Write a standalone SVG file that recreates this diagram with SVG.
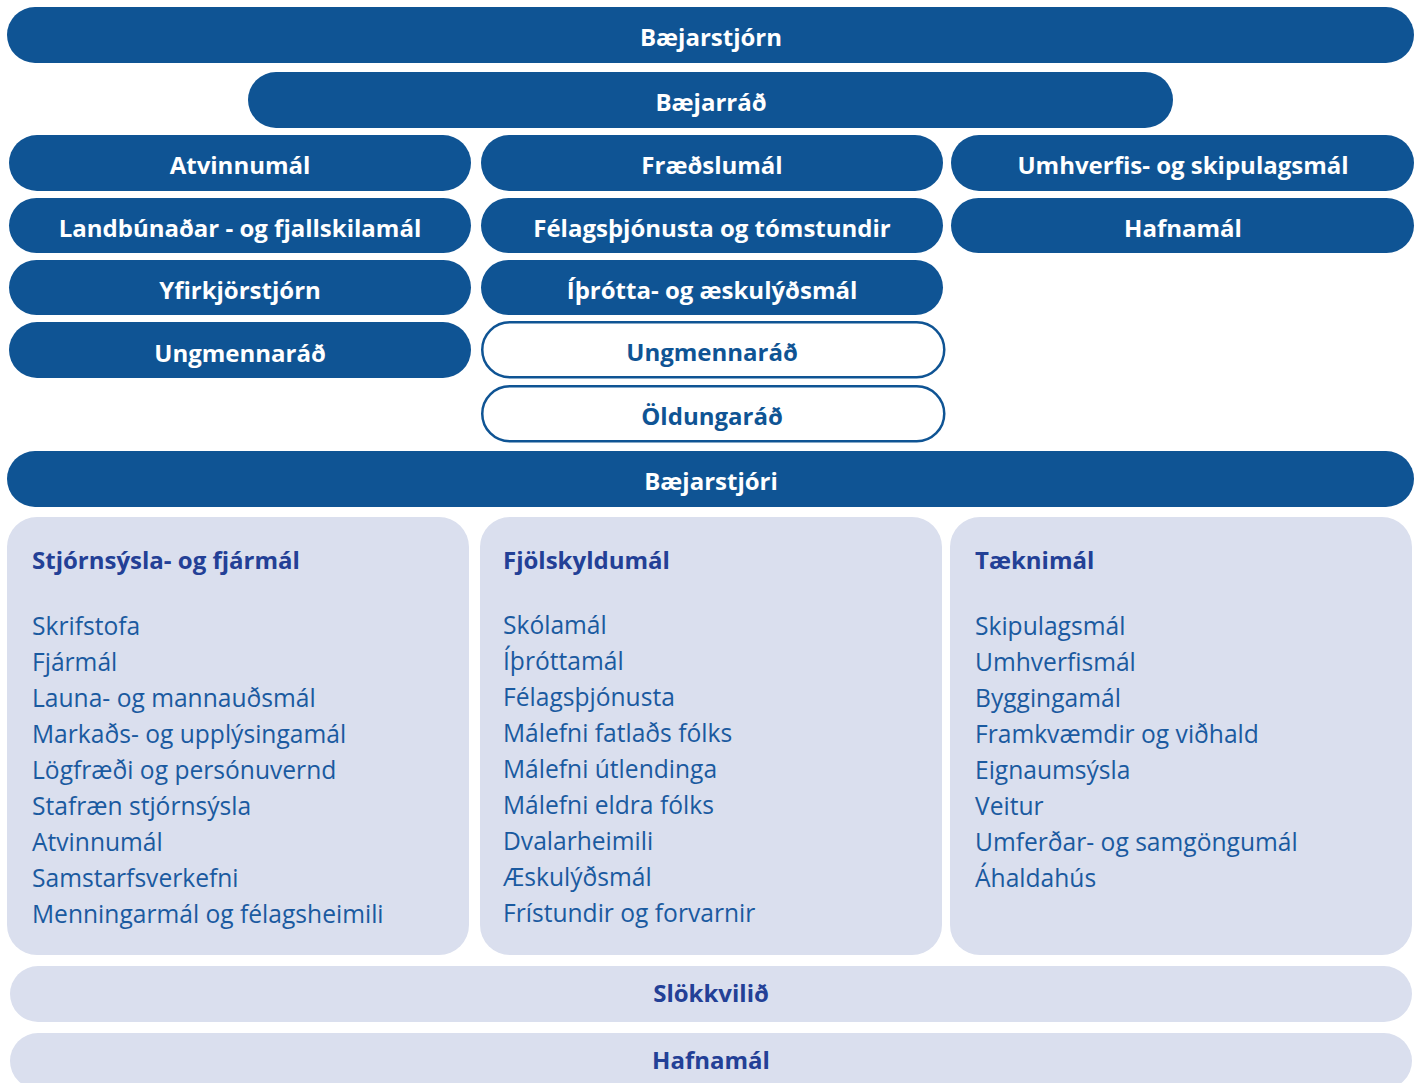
<svg xmlns="http://www.w3.org/2000/svg" width="1419" height="1083" viewBox="0 0 1419 1083">
<style>
.d{fill:#0F5494}
.o{fill:#fff;stroke:#0F5494;stroke-width:2.5}
.l{fill:#DADFEE}
.t{font-family:"Open Sans",sans-serif;font-weight:bold;font-size:24px;text-anchor:middle}
.w{fill:#fff}
.b{fill:#0F5494}
.h{font-family:"Open Sans",sans-serif;font-weight:bold;font-size:24px;fill:#234096}
.i{font-family:"Open Sans",sans-serif;font-weight:400;font-size:24.6px;fill:#1A5AA0}
.c{text-anchor:middle}
</style>
<g id="baejarstjorn"><rect class="d" x="7" y="7" width="1407" height="56" rx="28"/><text class="t w" x="711" y="46">Bæjarstjórn</text></g>
<g id="baejarrad"><rect class="d" x="248" y="72" width="925" height="56" rx="28"/><text class="t w" x="711" y="111">Bæjarráð</text></g>
<g id="atvinnumal"><rect class="d" x="9" y="135" width="462" height="56" rx="28"/><text class="t w" x="240" y="174">Atvinnumál</text></g>
<g id="fraedslumal"><rect class="d" x="481" y="135" width="462" height="56" rx="28"/><text class="t w" x="712" y="174">Fræðslumál</text></g>
<g id="umhverfis"><rect class="d" x="951" y="135" width="463" height="56" rx="28"/><text class="t w" x="1183" y="174">Umhverfis- og skipulagsmál</text></g>
<g id="landbunadar"><rect class="d" x="9" y="198" width="462" height="55" rx="27.5"/><text class="t w" x="240" y="237">Landbúnaðar - og fjallskilamál</text></g>
<g id="felagsthjonusta"><rect class="d" x="481" y="198" width="462" height="55" rx="27.5"/><text class="t w" x="712" y="237">Félagsþjónusta og tómstundir</text></g>
<g id="hafnamal-top"><rect class="d" x="951" y="198" width="463" height="55" rx="27.5"/><text class="t w" x="1183" y="237">Hafnamál</text></g>
<g id="yfirkjorstjorn"><rect class="d" x="9" y="260" width="462" height="55" rx="27.5"/><text class="t w" x="240" y="299">Yfirkjörstjórn</text></g>
<g id="ithrotta"><rect class="d" x="481" y="260" width="462" height="55" rx="27.5"/><text class="t w" x="712" y="299">Íþrótta- og æskulýðsmál</text></g>
<g id="ungmennarad-left"><rect class="d" x="9" y="322" width="462" height="56" rx="28"/><text class="t w" x="240" y="362">Ungmennaráð</text></g>
<g id="ungmennarad-mid"><rect class="o" x="482.25" y="322.25" width="462" height="55" rx="27.5"/><text class="t b" x="712" y="361">Ungmennaráð</text></g>
<g id="oldungarad"><rect class="o" x="482.25" y="386.25" width="462" height="55" rx="27.5"/><text class="t b" x="712" y="425">Öldungaráð</text></g>
<g id="baejarstjori"><rect class="d" x="7" y="451" width="1407" height="56" rx="28"/><text class="t w" x="711" y="490">Bæjarstjóri</text></g>
<g id="stjornsysla"><rect class="l" x="7" y="517" width="462" height="438" rx="30"/>
<text class="h" x="32" y="569">Stjórnsýsla- og fjármál</text>
<text class="i" x="32" y="635">Skrifstofa</text>
<text class="i" x="32" y="671">Fjármál</text>
<text class="i" x="32" y="707">Launa- og mannauðsmál</text>
<text class="i" x="32" y="743">Markaðs- og upplýsingamál</text>
<text class="i" x="32" y="779">Lögfræði og persónuvernd</text>
<text class="i" x="32" y="815">Stafræn stjórnsýsla</text>
<text class="i" x="32" y="851">Atvinnumál</text>
<text class="i" x="32" y="887">Samstarfsverkefni</text>
<text class="i" x="32" y="923">Menningarmál og félagsheimili</text>
</g>
<g id="fjolskyldumal"><rect class="l" x="480" y="517" width="462" height="438" rx="30"/>
<text class="h" x="503" y="569">Fjölskyldumál</text>
<text class="i" x="503" y="634">Skólamál</text>
<text class="i" x="503" y="670">Íþróttamál</text>
<text class="i" x="503" y="706">Félagsþjónusta</text>
<text class="i" x="503" y="742">Málefni fatlaðs fólks</text>
<text class="i" x="503" y="778">Málefni útlendinga</text>
<text class="i" x="503" y="814">Málefni eldra fólks</text>
<text class="i" x="503" y="850">Dvalarheimili</text>
<text class="i" x="503" y="886">Æskulýðsmál</text>
<text class="i" x="503" y="922">Frístundir og forvarnir</text>
</g>
<g id="taeknimal"><rect class="l" x="950" y="517" width="462" height="438" rx="30"/>
<text class="h" x="975" y="569">Tæknimál</text>
<text class="i" x="975" y="635">Skipulagsmál</text>
<text class="i" x="975" y="671">Umhverfismál</text>
<text class="i" x="975" y="707">Byggingamál</text>
<text class="i" x="975" y="743">Framkvæmdir og viðhald</text>
<text class="i" x="975" y="779">Eignaumsýsla</text>
<text class="i" x="975" y="815">Veitur</text>
<text class="i" x="975" y="851">Umferðar- og samgöngumál</text>
<text class="i" x="975" y="887">Áhaldahús</text>
</g>
<g id="slokkvilid"><rect class="l" x="10" y="966" width="1402" height="56" rx="28"/><text class="h c" x="711" y="1002">Slökkvilið</text></g>
<g id="hafnamal-bottom"><rect class="l" x="10" y="1033" width="1402" height="56" rx="28"/><text class="h c" x="711" y="1069">Hafnamál</text></g>
<g id="connectors"/>
</svg>
